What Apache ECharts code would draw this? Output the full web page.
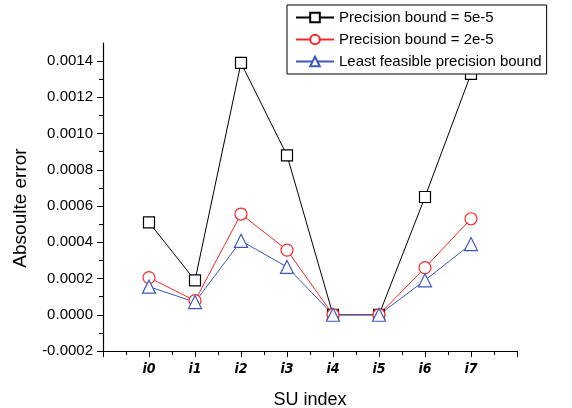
<!DOCTYPE html>
<html>
<head>
<meta charset="utf-8">
<script src="https://cdn.jsdelivr.net/npm/echarts@6/dist/echarts.min.js"></script>
<style>
  html, body { margin: 0; padding: 0; background: #fff; }
  #chart { width: 572px; height: 408px; }
</style>
</head>
<body>
<div id="chart"></div>
<script>
// SU indices shown along the x axis
const categories = ['i0', 'i1', 'i2', 'i3', 'i4', 'i5', 'i6', 'i7'];

// Absolute error for each precision setting
const bound5e5 = [0.00051, 0.00019, 0.00139, 0.00088, 0.0, 0.0, 0.00065, 0.00133];
const bound2e5 = [0.000205, 0.000078, 0.000556, 0.000357, 0.0, 0.0, 0.00026, 0.00053];
const leastFeasible = [0.000155, 0.00007, 0.000408, 0.000264, 0.0, 0.0, 0.00019, 0.00039];

const seriesNames = ['Precision bound = 5e-5', 'Precision bound = 2e-5', 'Least feasible precision bound'];

// y axis tick values
const yMajorTicks = [-0.0002, 0.0, 0.0002, 0.0004, 0.0006, 0.0008, 0.0010, 0.0012, 0.0014];
const yMinorTicks = [-0.0001, 0.0001, 0.0003, 0.0005, 0.0007, 0.0009, 0.0011, 0.0013];

const toPairs = arr => arr.map((v, i) => [i, v]);

const chart = echarts.init(document.getElementById('chart'), null, { renderer: 'canvas' });

const baseFont = 'Arial, "Liberation Sans", Helvetica, sans-serif';

function lineSeries(name, values, color, symbol, size) {
  return {
    name: name,
    type: 'line',
    data: toPairs(values),
    symbol: symbol,
    symbolSize: size,
    showAllSymbol: true,
    lineStyle: { color: color, width: 1 },
    itemStyle: { color: '#fff', borderColor: color, borderWidth: 1.2 },
    emphasis: { disabled: true }
  };
}

chart.setOption({
  animation: false,
  backgroundColor: '#fff',
  grid: { left: 103, right: 55, top: 43, bottom: 57, containLabel: false, outerBoundsMode: 'none' },
  legend: {
    left: 287,
    top: 5,
    orient: 'vertical',
    backgroundColor: '#fff',
    borderColor: '#000',
    borderWidth: 1,
    borderRadius: 0,
    padding: [5, 5, 5, 8],
    itemWidth: 38,
    itemHeight: 12,
    itemGap: 7,
    textStyle: { fontFamily: baseFont, fontSize: 15, color: '#000' },
    data: seriesNames
  },
  xAxis: {
    type: 'value',
    min: -1,
    max: 8,
    interval: 1,
    name: 'SU index',
    nameLocation: 'middle',
    nameGap: 40,
    nameTextStyle: { fontFamily: baseFont, fontSize: 18, color: '#000' },
    axisLine: { show: true, onZero: false, lineStyle: { color: '#000', width: 1.2 } },
    axisTick: { show: true, length: 6, lineStyle: { color: '#000' } },
    minorTick: { show: true, splitNumber: 2, length: 4, lineStyle: { color: '#000' } },
    splitLine: { show: false },
    axisLabel: {
      margin: 11,
      fontFamily: '"Liberation Sans Narrow", "DejaVu Sans Condensed", Arial, sans-serif',
      fontStyle: 'italic',
      fontWeight: 'bold',
      fontSize: 14,
      color: '#000',
      formatter: v => (v >= 0 && v < categories.length) ? categories[Math.round(v)] : ''
    }
  },
  yAxis: [
    {
      type: 'value',
      min: -0.0002,
      max: 0.0015,
      position: 'left',
      name: 'Absoulte error',
      nameLocation: 'middle',
      nameGap: 73,
      nameTextStyle: { fontFamily: baseFont, fontSize: 19, color: '#000', padding: [0, 22, 0, 0] },
      axisLine: { show: true, onZero: false, lineStyle: { color: '#000', width: 1.2 } },
      axisTick: { show: true, length: 6, customValues: yMajorTicks, lineStyle: { color: '#000' } },
      splitLine: { show: false },
      axisLabel: {
        margin: 10,
        fontFamily: baseFont,
        fontSize: 15,
        color: '#000',
        customValues: yMajorTicks,
        formatter: v => v.toFixed(4)
      }
    },
    {
      // minor ticks on the same left edge
      type: 'value',
      min: -0.0002,
      max: 0.0015,
      position: 'left',
      axisLine: { show: false, onZero: false },
      axisTick: { show: true, length: 4, customValues: yMinorTicks, lineStyle: { color: '#000' } },
      axisLabel: { show: false },
      splitLine: { show: false }
    }
  ],
  series: [
    lineSeries(seriesNames[0], bound5e5, '#000000', 'rect', 11),
    lineSeries(seriesNames[1], bound2e5, '#f32a2a', 'circle', 12),
    lineSeries(seriesNames[2], leastFeasible, '#3d57b8', 'triangle', 13)
  ]
});
</script>
</body>
</html>
